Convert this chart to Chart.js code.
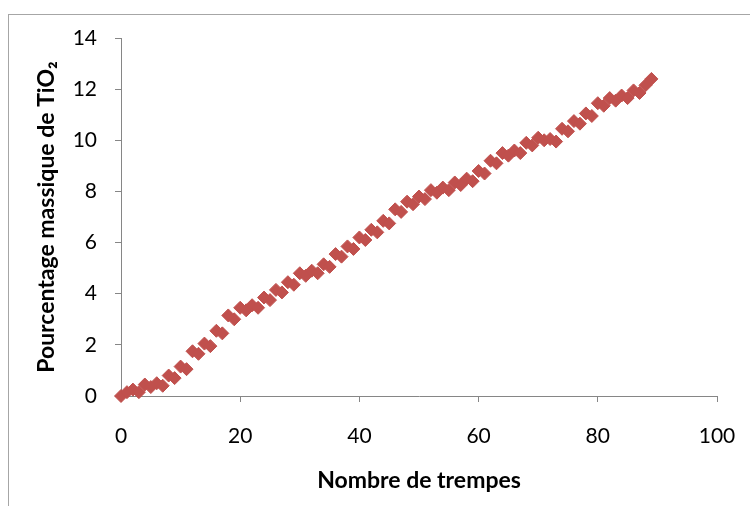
<!DOCTYPE html>
<html>
<head>
<meta charset="utf-8">
<script src="https://cdn.jsdelivr.net/npm/chart.js@4.4.1/dist/chart.umd.min.js"></script>
<style>
  html, body { margin: 0; padding: 0; background: #fff; overflow: hidden; }
  #wrap { position: relative; width: 750px; height: 506px; }
  #frame {
    position: absolute; left: 8px; top: 14px; width: 800px; height: 600px;
    border: 1px solid #a6a6a6;
  }
  #chart { position: absolute; left: 0; top: 0; }
</style>
</head>
<body>
<div id="wrap">
  <div id="frame"></div>
  <canvas id="chart" width="750" height="506"></canvas>
</div>
<script>
// ── data ──────────────────────────────────────────────
const trempes = [
   0,  1,  2,  3,  4,  5,  6,  7,  8,  9,
  10, 11, 12, 13, 14, 15, 16, 17, 18, 19,
  20, 21, 22, 23, 24, 25, 26, 27, 28, 29,
  30, 31, 32, 33, 34, 35, 36, 37, 38, 39,
  40, 41, 42, 43, 44, 45, 46, 47, 48, 49,
  50, 51, 52, 53, 54, 55, 56, 57, 58, 59,
  60, 61, 62, 63, 64, 65, 66, 67, 68, 69,
  70, 71, 72, 73, 74, 75, 76, 77, 78, 79,
  80, 81, 82, 83, 84, 85, 86, 87, 88, 89
];
const tio2 = [
  0.00, 0.15, 0.25, 0.15, 0.45, 0.35, 0.50, 0.40, 0.80, 0.70,
  1.15, 1.05, 1.75, 1.65, 2.05, 1.95, 2.55, 2.45, 3.15, 3.00,
  3.45, 3.35, 3.55, 3.45, 3.85, 3.75, 4.15, 4.05, 4.45, 4.35,
  4.80, 4.70, 4.90, 4.80, 5.15, 5.05, 5.55, 5.45, 5.85, 5.75,
  6.20, 6.10, 6.50, 6.40, 6.85, 6.75, 7.30, 7.20, 7.60, 7.50,
  7.80, 7.70, 8.05, 7.95, 8.15, 8.05, 8.35, 8.25, 8.50, 8.40,
  8.80, 8.70, 9.20, 9.10, 9.50, 9.40, 9.60, 9.50, 9.90, 9.80,
  10.10, 10.00, 10.05, 9.95, 10.45, 10.35, 10.75, 10.65, 11.05, 10.95,
  11.45, 11.35, 11.65, 11.55, 11.75, 11.65, 11.95, 11.85, 12.15, 12.40
];
const xTicks = [0, 20, 40, 60, 80, 100];
const yTicks = [0, 2, 4, 6, 8, 10, 12, 14];

const points = trempes.map((t, i) => ({ x: t, y: tio2[i] }));

const FONT = 'Lato, "Open Sans", sans-serif';
const AXIS = '#868686';
const PAD = { left: 33, top: 38, right: 33, bottom: 12 };

// ── scatter chart ─────────────────────────────────────
new Chart(document.getElementById('chart'), {
    type: 'scatter',
    data: {
        datasets: [{
            data: points,
            pointStyle: 'rectRot',
            pointRadius: 6.5,
            pointBackgroundColor: '#C0504D',
            pointBorderColor: '#C0504D',
            pointBorderWidth: 1,
            showLine: false,
            clip: false
        }]
    },
    options: {
        responsive: false,
        animation: false,
        layout: { padding: PAD },
        plugins: { legend: { display: false }, tooltip: { enabled: false } },
        scales: {
            x: {
                type: 'linear',
                min: xTicks[0],
                max: xTicks[xTicks.length - 1],
                afterBuildTicks: s => { s.ticks = xTicks.map(v => ({ value: v })); },
                afterFit: s => {
                    s.height = 506 - PAD.bottom - 396;
                    s.paddingLeft = 0;
                    s.paddingRight = 0;
                },
                grid: { drawOnChartArea: false, drawTicks: true, tickLength: 6, color: AXIS },
                border: { color: AXIS, width: 1 },
                ticks: { color: '#000', padding: 22, maxRotation: 0, font: { family: FONT, size: 21 } },
                title: {
                    display: true,
                    text: 'Nombre de trempes',
                    color: '#000',
                    padding: 0,
                    font: { family: FONT, size: 23, weight: 'bold' }
                }
            },
            y: {
                min: yTicks[0],
                max: yTicks[yTicks.length - 1],
                afterBuildTicks: s => { s.ticks = yTicks.map(v => ({ value: v })); },
                afterFit: s => {
                    s.width = 121 - PAD.left;
                    s.paddingTop = 0;
                    s.paddingBottom = 0;
                },
                grid: { drawOnChartArea: false, drawTicks: true, tickLength: 6, color: AXIS },
                border: { color: AXIS, width: 1 },
                ticks: { color: '#000', padding: 18, font: { family: FONT, size: 21 } },
                title: {
                    display: true,
                    text: 'Pourcentage massique de TiO₂',
                    color: '#000',
                    padding: 0,
                    font: { family: FONT, size: 23, weight: 'bold' }
                }
            }
        }
    }
});
</script>
</body>
</html>
